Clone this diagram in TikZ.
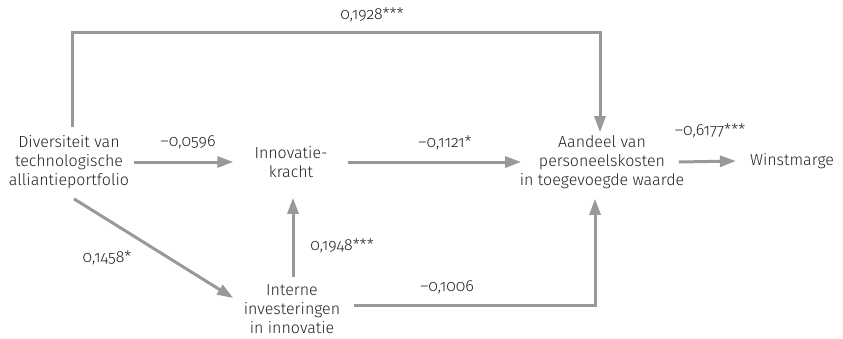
\documentclass[tikz,border=0pt]{standalone}
\usepackage{fontspec}
\setmainfont[Numbers=OldStyle]{Fira Sans Light}
\usetikzlibrary{arrows.meta}
\definecolor{linegrey}{RGB}{152,153,157}
\definecolor{txt}{RGB}{35,35,35}
\tikzset{
  box/.style={inner sep=0pt, align=center, text=txt, font=\fontsize{16}{19}\selectfont},
  lbl/.style={inner sep=0pt, text=txt, font=\fontsize{16}{19}\selectfont},
  arr/.style={draw=linegrey, line width=3pt, -{Triangle[length=16pt,width=11pt]}},
}
\begin{document}
\begin{tikzpicture}[x=1pt,y=-1pt]
\useasboundingbox[fill=white] (0,0) rectangle (843,338);
\node[box] (div) at (69,162) {Diversiteit van\\technologische\\alliantieportfolio};
\node[box] (inno) at (291,162) {Innovatie-\\kracht};
\node[box] (aand) at (602,162) {Aandeel van\\personeelskosten\\in toegevoegde waarde};
\node[box] (winst) at (792,161) {Winstmarge};
\node[box] (intern) at (292,309) {Interne\\investeringen\\in innovatie};
\coordinate (topy) at (0,32);

\draw[arr] ([xshift=3pt,yshift=8pt]div.north) |- ([xshift=-2pt]aand.north |- topy) -- ([xshift=-2pt,yshift=3pt]aand.north);
\draw[arr] ([xshift=4.5pt]div.east) -- ([xshift=-21pt]inno.west);
\draw[arr] ([xshift=20pt]inno.east) -- ([xshift=1.5pt]aand.west);
\draw[arr] ([xshift=-5.5pt]aand.east) -- ([xshift=-14pt]winst.west);
\draw[arr] ([xshift=5pt,yshift=-10pt]div.south) -- ([xshift=-10.5pt,yshift=11pt]intern.west);
\draw[arr] ([xshift=1pt,yshift=7pt]intern.north) -- ([xshift=2pt,yshift=-20pt]inno.south);
\draw[arr] ([xshift=13.5pt,yshift=4pt]intern.east) -| ([xshift=-7pt,yshift=-10pt]aand.south);

\node[lbl] (l1) at (372,15) {0,1928***};
\node[lbl] (l2) at (188,142) {–0,0596};
\node[lbl] (l3) at (445,143) {–0,1121*};
\node[lbl] (l4) at (710,131) {–0,6177***};
\node[lbl] (l5) at (107,258) {0,1458*};
\node[lbl] (l6) at (342,246) {0,1948***};
\node[lbl] (l7) at (447,287) {–0,1006};
\end{tikzpicture}
\end{document}
